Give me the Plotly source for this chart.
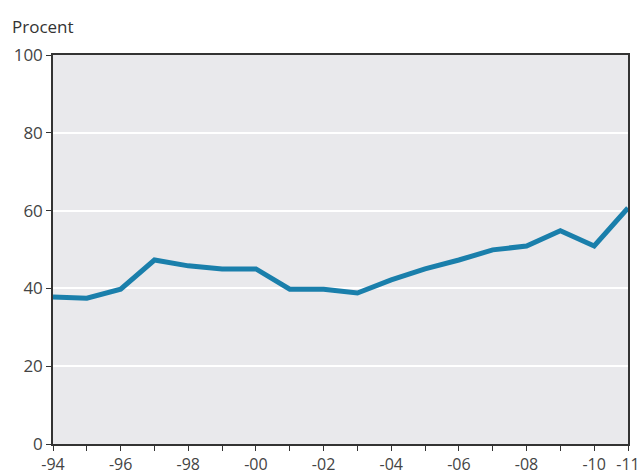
import plotly.graph_objects as go

years = list(range(1994, 2012))
values = [37.8, 37.5, 39.8, 47.3, 45.8, 45.0, 45.0, 39.8, 39.8, 38.8,
          42.2, 45.0, 47.3, 49.9, 50.9, 54.8, 50.9, 60.7]
tick_years = years
tick_labels = ["-94", "", "-96", "", "-98", "", "-00", "", "-02", "", "-04", "",
               "-06", "", "-08", "", "-10", "-11"]
y_ticks = [0, 20, 40, 60, 80, 100]

fig = go.Figure()
fig.add_trace(go.Scatter(x=years, y=values, mode="lines",
                         line=dict(color="#1a7fab", width=5), hoverinfo="skip"))

font_fam = "Open Sans, Liberation Sans, sans-serif"
fig.update_layout(
    width=639, height=475,
    margin=dict(l=53, r=11, t=55, b=31, autoexpand=False),
    paper_bgcolor="white", plot_bgcolor="#e9e9ec",
    showlegend=False,
    font=dict(family=font_fam, size=17, color="#444"),
    annotations=[dict(text="Procent", x=0, y=1, xref="paper", yref="paper",
                      xanchor="left", yanchor="bottom", xshift=-43, yshift=15,
                      showarrow=False, font=dict(size=17, color="#333", family=font_fam))],
)
fig.update_xaxes(range=[1994, 2011], tickvals=tick_years, ticktext=tick_labels,
                 ticks="outside", ticklen=5, tickcolor="#333", showgrid=False,
                 showline=True, linecolor="#333", linewidth=1.5, mirror=True,
                 zeroline=False, automargin=False, ticklabeloverflow="allow",
                 tickfont=dict(size=16, color="#444"))
fig.update_yaxes(range=[0, 100], tickvals=y_ticks, ticks="outside", ticklen=5,
                 tickcolor="#333", showgrid=True, gridcolor="white", gridwidth=2,
                 showline=True, linecolor="#333", linewidth=1.5, mirror=True,
                 zeroline=False, automargin=False, tickfont=dict(size=17, color="#444"))
fig.write_html("out.html")
